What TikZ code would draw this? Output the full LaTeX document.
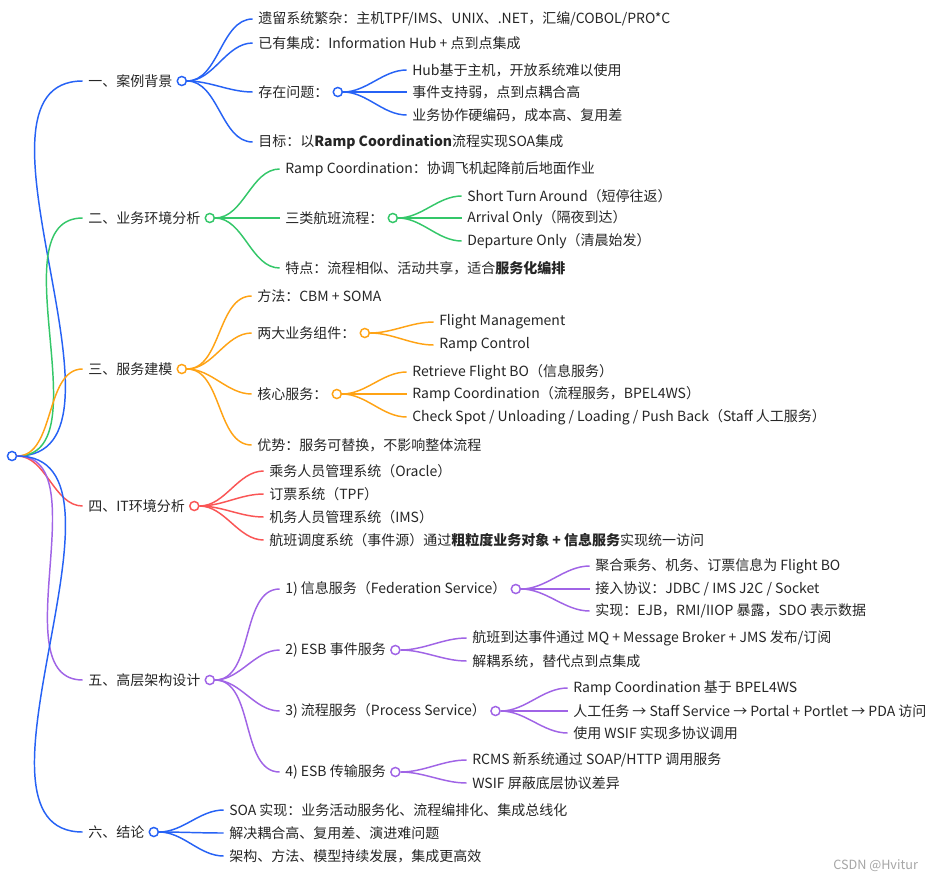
\documentclass[tikz,border=0pt]{standalone}
\usepackage{fontspec}
\setmainfont{Noto Sans CJK SC}
\usetikzlibrary{positioning}
\definecolor{mblue}{RGB}{38,98,245}
\definecolor{mgreen}{RGB}{52,199,105}
\definecolor{morange}{RGB}{255,163,20}
\definecolor{mred}{RGB}{250,85,85}
\definecolor{mpurple}{RGB}{160,100,230}
\tikzset{
  txt/.style={anchor=west, inner sep=0pt, font=\fontsize{10.5}{12}\selectfont, text=black!85},
  dot/.style={circle, draw=#1, fill=white, line width=1.1pt, minimum size=6.8pt, inner sep=0pt},
  edge/.style={draw=#1, line width=1.1pt, out=0, in=180, looseness=0.9}
}
\begin{document}
\begin{tikzpicture}[x=0.75pt, y=-0.75pt]
  \useasboundingbox[fill=white] (0,0) rectangle (946,882);
  % root
  \node[dot=mblue] (root) at (12,456) {};
  % level one
  \node[txt] (a) at (88,81) {一、案例背景};
  \node[txt] (b) at (88,218) {二、业务环境分析};
  \node[txt] (c) at (88,369) {三、服务建模};
  \node[txt] (d) at (88,506) {四、IT环境分析};
  \node[txt] (e) at (88,680) {五、高层架构设计};
  \node[txt] (f) at (88,832) {六、结论};
  \node[dot=mblue, right=3pt of a] (ac) {};
  \node[dot=mgreen, right=3pt of b] (bc) {};
  \node[dot=morange, right=3pt of c] (cc) {};
  \node[dot=mred, right=3pt of d] (dc) {};
  \node[dot=mpurple, right=3pt of e] (ec) {};
  \node[dot=mblue, right=3pt of f] (fc) {};
  \draw[edge=mblue] (root.east) to ([xshift=-4pt]a.west);
  \draw[edge=mgreen] (root.east) to ([xshift=-4pt]b.west);
  \draw[edge=morange] (root.east) to ([xshift=-4pt]c.west);
  \draw[edge=mred] (root.east) to ([xshift=-4pt]d.west);
  \draw[edge=mpurple] (root.east) to ([xshift=-4pt]e.west);
  \draw[edge=mblue] (root.east) to ([xshift=-4pt]f.west);

  % 一
  \node[txt] (a1) at (258,19) {遗留系统繁杂：主机TPF/IMS、UNIX、.NET，汇编/COBOL/PRO*C};
  \node[txt] (a2) at (258,43) {已有集成：Information Hub + 点到点集成};
  \node[txt] (a3) at (258,92) {存在问题：};
  \node[txt] (a4) at (258,142) {目标：以\textbf{Ramp Coordination}流程实现SOA集成};
  \node[dot=mblue, right=3pt of a3] (a3c) {};
  \node[txt] (a31) at (412,70) {Hub基于主机，开放系统难以使用};
  \node[txt] (a32) at (412,92) {事件支持弱，点到点耦合高};
  \node[txt] (a33) at (412,115) {业务协作硬编码，成本高、复用差};
  \foreach \n in {a1,a2,a3,a4}
    \draw[edge=mblue] (ac.east) to ([xshift=-4pt]\n.west);
  \foreach \n in {a31,a32,a33}
    \draw[edge=mblue] (a3c.east) to ([xshift=-4pt]\n.west);

  % 二
  \node[txt] (b1) at (285,169) {Ramp Coordination：协调飞机起降前后地面作业};
  \node[txt] (b2) at (285,218) {三类航班流程：};
  \node[txt] (b3) at (285,268) {特点：流程相似、活动共享，适合\textbf{服务化编排}};
  \node[dot=mgreen, right=3pt of b2] (b2c) {};
  \node[txt] (b21) at (467,196) {Short Turn Around（短停往返）};
  \node[txt] (b22) at (467,218) {Arrival Only（隔夜到达）};
  \node[txt] (b23) at (467,241) {Departure Only（清晨始发）};
  \foreach \n in {b1,b2,b3}
    \draw[edge=mgreen] (bc.east) to ([xshift=-4pt]\n.west);
  \foreach \n in {b21,b22,b23}
    \draw[edge=mgreen] (b2c.east) to ([xshift=-4pt]\n.west);

  % 三
  \node[txt] (c1) at (257,296) {方法：CBM + SOMA};
  \node[txt] (c2) at (257,333) {两大业务组件：};
  \node[txt] (c3) at (257,394) {核心服务：};
  \node[txt] (c4) at (257,445) {优势：服务可替换，不影响整体流程};
  \node[dot=morange, right=3pt of c2] (c2c) {};
  \node[dot=morange, right=3pt of c3] (c3c) {};
  \node[txt] (c21) at (439,322) {Flight Management};
  \node[txt] (c22) at (439,345) {Ramp Control};
  \node[txt] (c31) at (412,372) {Retrieve Flight BO（信息服务）};
  \node[txt] (c32) at (412,394) {Ramp Coordination（流程服务，BPEL4WS）};
  \node[txt] (c33) at (412,417) {Check Spot / Unloading / Loading / Push Back（Staff 人工服务）};
  \foreach \n in {c1,c2,c3,c4}
    \draw[edge=morange] (cc.east) to ([xshift=-4pt]\n.west);
  \foreach \n in {c21,c22}
    \draw[edge=morange] (c2c.east) to ([xshift=-4pt]\n.west);
  \foreach \n in {c31,c32,c33}
    \draw[edge=morange] (c3c.east) to ([xshift=-4pt]\n.west);

  % 四
  \node[txt] (d1) at (269,471) {乘务人员管理系统（Oracle）};
  \node[txt] (d2) at (269,494) {订票系统（TPF）};
  \node[txt] (d3) at (269,517) {机务人员管理系统（IMS）};
  \node[txt] (d4) at (269,540) {航班调度系统（事件源）通过\textbf{粗粒度业务对象 + 信息服务}实现统一访问};
  \foreach \n in {d1,d2,d3,d4}
    \draw[edge=mred] (dc.east) to ([xshift=-4pt]\n.west);

  % 五
  \node[txt] (e1) at (285,589) {1) 信息服务（Federation Service）};
  \node[txt] (e2) at (285,650) {2) ESB 事件服务};
  \node[txt] (e3) at (285,711) {3) 流程服务（Process Service）};
  \node[txt] (e4) at (285,772) {4) ESB 传输服务};
  \node[dot=mpurple, right=3pt of e1] (e1c) {};
  \node[dot=mpurple, right=3pt of e2] (e2c) {};
  \node[dot=mpurple, right=3pt of e3] (e3c) {};
  \node[dot=mpurple, right=3pt of e4] (e4c) {};
  \node[txt] (e11) at (595,566) {聚合乘务、机务、订票信息为 Flight BO};
  \node[txt] (e12) at (595,589) {接入协议：JDBC / IMS J2C / Socket};
  \node[txt] (e13) at (595,611) {实现：EJB，RMI/IIOP 暴露，SDO 表示数据};
  \node[txt] (e21) at (472,638) {航班到达事件通过 MQ + Message Broker + JMS 发布/订阅};
  \node[txt] (e22) at (472,661) {解耦系统，替代点到点集成};
  \node[txt] (e31) at (573,688) {Ramp Coordination 基于 BPEL4WS};
  \node[txt] (e32) at (573,711) {人工任务 → Staff Service → Portal + Portlet → PDA 访问};
  \node[txt] (e33) at (573,733) {使用 WSIF 实现多协议调用};
  \node[txt] (e41) at (472,760) {RCMS 新系统通过 SOAP/HTTP 调用服务};
  \node[txt] (e42) at (472,783) {WSIF 屏蔽底层协议差异};
  \foreach \n in {e1,e2,e3,e4}
    \draw[edge=mpurple] (ec.east) to ([xshift=-4pt]\n.west);
  \foreach \n in {e11,e12,e13}
    \draw[edge=mpurple] (e1c.east) to ([xshift=-4pt]\n.west);
  \foreach \n in {e21,e22}
    \draw[edge=mpurple] (e2c.east) to ([xshift=-4pt]\n.west);
  \foreach \n in {e31,e32,e33}
    \draw[edge=mpurple] (e3c.east) to ([xshift=-4pt]\n.west);
  \foreach \n in {e41,e42}
    \draw[edge=mpurple] (e4c.east) to ([xshift=-4pt]\n.west);

  % 六
  \node[txt] (f1) at (229,810) {SOA 实现：业务活动服务化、流程编排化、集成总线化};
  \node[txt] (f2) at (229,833) {解决耦合高、复用差、演进难问题};
  \node[txt] (f3) at (229,856) {架构、方法、模型持续发展，集成更高效};
  \foreach \n in {f1,f2,f3}
    \draw[edge=mblue] (fc.east) to ([xshift=-4pt]\n.west);

  \node[txt, text=black!35, font=\fontsize{9.5}{11}\selectfont] (mark) at (833,866) {CSDN @Hvitur};
\end{tikzpicture}
\end{document}
